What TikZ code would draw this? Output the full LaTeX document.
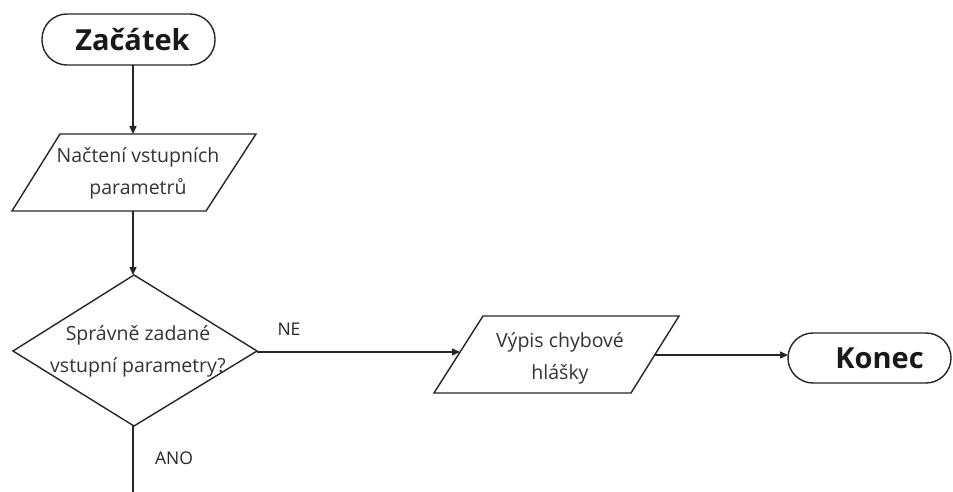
\documentclass[tikz,border=0pt]{standalone}
\usepackage{fontspec}
\setmainfont{Open Sans}
\usetikzlibrary{arrows.meta}
\begin{document}
\begin{tikzpicture}[x=1pt,y=-1pt,
  shapeline/.style={draw=black!85,line width=1.4pt,line join=miter},
  conn/.style={draw=black!85,line width=1.4pt},
  arr/.style={conn,-{Triangle[length=8pt,width=7pt]}},
  body/.style={font=\fontsize{19.5}{32}\selectfont,align=center,text=black!80,inner sep=0pt},
  term/.style={font=\fontsize{29}{36}\bfseries\selectfont,text=black!90,inner sep=0pt},
  lbl/.style={font=\fontsize{17.5}{20}\selectfont,text=black!85,inner sep=0pt}]
\useasboundingbox (0,0) rectangle (953,492);
\fill[white] (0,0) rectangle (953,492);

% start terminator
\draw[shapeline,rounded corners=25pt] (42,14) rectangle (215,65);
\node[term] (startlbl) at (132.5,40) {Začátek};
\coordinate (startB) at (133,65);

% input parallelogram
\draw[shapeline] (60,134) -- (256,134) -- (206,211) -- (12,211) -- cycle;
\node[body] (readlbl) at (138,173) {Načtení vstupních\\parametrů};
\coordinate (readT) at (133,134);
\coordinate (readB) at (133,211);

% decision diamond
\draw[shapeline] (134,275) -- (257,351) -- (134,426) -- (13,351) -- cycle;
\node[body] (decide) at (138,351) {Správně zadané\\vstupní parametry?};
\coordinate (decT) at (133,275);
\coordinate (decR) at (257,352);
\coordinate (decB) at (133,426);
\coordinate (yesEnd) at (133,492);

% error output parallelogram
\draw[shapeline] (483,316) -- (679,316) -- (631,393) -- (434,393) -- cycle;
\node[body] (errlbl) at (560,358) {Výpis chybové\\hlášky};
\coordinate (errL) at (460,352);
\coordinate (errR) at (655,355);

% end terminator
\draw[shapeline,rounded corners=25pt] (788,333) rectangle (951,383);
\node[term] (endlbl) at (879.5,358) {Konec};
\coordinate (endL) at (788,355);

% connectors
\draw[arr] (startB) -- (readT);
\draw[arr] (readB) -- (decT);
\draw[arr] (decR) -- (errL);
\draw[arr] (errR) -- (endL);
\draw[conn] (decB) -- (yesEnd);

% branch labels
\node[lbl] (no) at (289,329) {NE};
\node[lbl] (yes) at (174,458) {ANO};
\end{tikzpicture}
\end{document}
